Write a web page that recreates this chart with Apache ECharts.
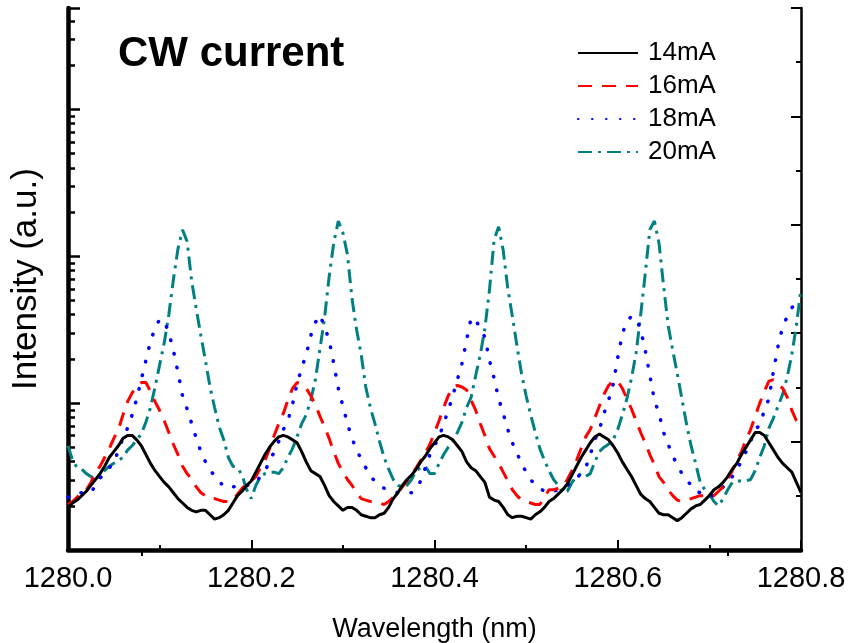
<!DOCTYPE html>
<html><head><meta charset="utf-8">
<script src="https://cdn.jsdelivr.net/npm/echarts@6/dist/echarts.min.js"></script>
<style>html,body{margin:0;padding:0;background:#fff}#c{width:850px;height:643px}</style>
</head><body><div id="c"></div>
<script>
// Wavelength sampling grid (nm), 0.005 nm step from 1280.000 to 1280.800
const wavelength = Array.from({length: 161}, (_, i) => Number((1280 + i * 0.005).toFixed(3)));
const seriesNames = ['14mA', '16mA', '18mA', '20mA'];
const xTickLabels = ['1280.0', '1280.2', '1280.4', '1280.6', '1280.8'];

// log10 intensity (a.u.)
const i14 = [
0.29,0.32,0.34,0.37,0.40,0.44,0.48,0.52,0.57,0.63,
0.67,0.71,0.76,0.78,0.78,0.75,0.71,0.65,0.59,0.54,
0.50,0.46,0.43,0.39,0.35,0.32,0.29,0.27,0.26,0.27,
0.27,0.24,0.21,0.22,0.24,0.27,0.32,0.37,0.40,0.44,
0.47,0.53,0.59,0.65,0.70,0.74,0.77,0.78,0.77,0.75,
0.73,0.67,0.60,0.54,0.52,0.50,0.44,0.37,0.33,0.30,
0.27,0.29,0.29,0.27,0.24,0.23,0.22,0.22,0.24,0.25,
0.29,0.35,0.39,0.44,0.48,0.51,0.55,0.60,0.64,0.69,
0.73,0.77,0.78,0.77,0.75,0.71,0.67,0.60,0.56,0.54,
0.50,0.46,0.36,0.34,0.33,0.29,0.24,0.22,0.23,0.23,
0.22,0.21,0.24,0.26,0.29,0.33,0.35,0.38,0.41,0.45,
0.51,0.57,0.63,0.68,0.73,0.77,0.79,0.77,0.75,0.71,
0.66,0.60,0.55,0.50,0.44,0.38,0.35,0.33,0.29,0.25,
0.24,0.24,0.22,0.20,0.22,0.25,0.28,0.30,0.31,0.34,
0.37,0.41,0.43,0.46,0.50,0.55,0.59,0.65,0.70,0.75,
0.80,0.80,0.78,0.73,0.68,0.63,0.59,0.56,0.53,0.46,
0.39];
const i16 = [
0.31,0.33,0.36,0.39,0.41,0.46,0.53,0.57,0.63,0.69,
0.76,0.82,0.92,1.01,1.07,1.11,1.14,1.14,1.08,1.01,
0.95,0.88,0.80,0.72,0.65,0.57,0.52,0.48,0.43,0.39,
0.37,0.35,0.35,0.34,0.33,0.33,0.34,0.38,0.42,0.45,
0.47,0.50,0.56,0.61,0.69,0.78,0.86,0.93,1.02,1.10,
1.14,1.13,1.10,1.05,0.99,0.91,0.84,0.76,0.67,0.59,
0.53,0.48,0.44,0.39,0.35,0.34,0.33,0.33,0.32,0.31,
0.33,0.36,0.39,0.43,0.47,0.51,0.56,0.61,0.66,0.72,
0.80,0.88,0.97,1.05,1.11,1.12,1.11,1.09,1.02,0.95,
0.86,0.78,0.69,0.64,0.59,0.53,0.47,0.41,0.37,0.34,
0.33,0.32,0.31,0.31,0.36,0.41,0.41,0.42,0.43,0.48,
0.54,0.61,0.69,0.77,0.82,0.90,0.98,1.06,1.12,1.15,
1.15,1.10,1.03,0.96,0.88,0.80,0.73,0.65,0.58,0.50,
0.46,0.41,0.37,0.34,0.33,0.34,0.35,0.36,0.37,0.37,
0.37,0.37,0.40,0.43,0.48,0.54,0.61,0.67,0.75,0.82,
0.91,1.00,1.08,1.15,1.16,1.13,1.10,1.04,0.95,0.88,
0.84];
const i18 = [
0.36,0.37,0.39,0.39,0.39,0.39,0.44,0.49,0.52,0.56,
0.59,0.68,0.76,0.83,0.92,1.03,1.16,1.29,1.42,1.51,
1.57,1.56,1.48,1.36,1.21,1.05,0.96,0.86,0.76,0.67,
0.60,0.55,0.50,0.47,0.43,0.43,0.43,0.43,0.43,0.44,
0.44,0.46,0.50,0.54,0.60,0.67,0.74,0.82,0.88,0.99,
1.13,1.24,1.33,1.46,1.55,1.60,1.52,1.43,1.27,1.10,
0.98,0.86,0.76,0.68,0.62,0.56,0.50,0.47,0.44,0.42,
0.41,0.40,0.39,0.39,0.39,0.39,0.42,0.47,0.56,0.65,
0.71,0.77,0.86,0.95,1.05,1.16,1.27,1.43,1.58,1.57,
1.50,1.45,1.29,1.17,1.03,0.93,0.82,0.73,0.66,0.59,
0.53,0.48,0.44,0.42,0.40,0.39,0.40,0.41,0.42,0.44,
0.46,0.49,0.52,0.56,0.65,0.75,0.82,0.93,1.02,1.13,
1.31,1.47,1.56,1.59,1.58,1.50,1.36,1.19,1.02,0.93,
0.80,0.72,0.64,0.58,0.52,0.48,0.44,0.40,0.39,0.37,
0.37,0.37,0.40,0.43,0.46,0.50,0.54,0.61,0.67,0.74,
0.82,0.85,0.95,1.03,1.22,1.39,1.52,1.59,1.65,1.68,
1.71];
const i20 = [
0.71,0.61,0.56,0.55,0.52,0.50,0.48,0.50,0.54,0.57,
0.59,0.61,0.63,0.68,0.71,0.75,0.79,0.87,0.97,1.11,
1.26,1.41,1.60,1.84,2.05,2.18,2.10,1.83,1.64,1.46,
1.29,1.11,0.97,0.84,0.75,0.63,0.57,0.56,0.51,0.41,
0.35,0.44,0.50,0.52,0.53,0.53,0.52,0.56,0.63,0.69,
0.77,0.86,0.92,1.02,1.16,1.37,1.58,1.86,2.09,2.24,
2.16,2.01,1.71,1.50,1.33,1.11,0.97,0.86,0.74,0.63,
0.55,0.48,0.44,0.43,0.44,0.48,0.54,0.56,0.57,0.52,
0.52,0.59,0.65,0.70,0.74,0.80,0.87,0.97,1.04,1.19,
1.33,1.51,1.77,2.11,2.20,2.04,1.78,1.59,1.39,1.20,
1.05,0.92,0.80,0.69,0.61,0.54,0.48,0.44,0.39,0.40,
0.46,0.50,0.52,0.50,0.52,0.60,0.67,0.70,0.72,0.75,
0.82,0.92,1.03,1.17,1.34,1.60,1.88,2.18,2.24,2.09,
1.80,1.53,1.36,1.20,1.03,0.86,0.71,0.59,0.46,0.41,
0.38,0.33,0.30,0.35,0.41,0.46,0.47,0.47,0.47,0.48,
0.54,0.63,0.71,0.83,0.90,0.98,1.06,1.18,1.33,1.53,
1.78];

const yMax = 3.69; // top of plot in log10 units
const logMinorTicks = [];
for (let n = 0; n < 4; n++) for (let m = 2; m <= 9; m++) {
  const v = Math.log10(m * Math.pow(10, n));
  if (v < yMax) logMinorTicks.push(v);
}

const FONT = 'Liberation Sans, Arial, Helvetica, sans-serif';
const pairs = arr => wavelength.map((w, i) => [w, arr[i]]);

const chart = echarts.init(document.getElementById('c'), null, {renderer: 'canvas'});
chart.setOption({
  animation: false,
  backgroundColor: '#fff',
  textStyle: {fontFamily: FONT},
  title: {
    text: 'CW current', left: 118, top: 33, padding: 0,
    textStyle: {fontSize: 42, fontWeight: 'bold', color: '#000', fontFamily: FONT}
  },
  legend: {
    orient: 'vertical', left: 577, top: 40, padding: 0,
    itemWidth: 60, itemHeight: 26, itemGap: 7,
    data: seriesNames,
    itemStyle: {opacity: 0},
    textStyle: {fontSize: 26, color: '#000', fontFamily: FONT, padding: [0, 0, 0, 5]}
  },
  grid: {left: 68, right: 49, top: 8, bottom: 93, outerBoundsMode: 'none', containLabel: false},
  xAxis: [{
    type: 'value', position: 'bottom', min: 1280, max: 1280.8, interval: 0.2,
    axisLine: {lineStyle: {color: '#000', width: 4.5}},
    axisTick: {inside: true, length: 10, lineStyle: {color: '#000', width: 2}},
    minorTick: {show: true, splitNumber: 2, length: 5, lineStyle: {color: '#000', width: 2}},
    splitLine: {show: false},
    axisLabel: {
      formatter: v => xTickLabels[Math.round((v - 1280) / 0.2)],
      fontSize: 29, color: '#000', margin: 14, fontFamily: FONT,
      showMinLabel: true, showMaxLabel: true
    },
    name: 'Wavelength (nm)', nameLocation: 'middle', nameGap: 66,
    nameTextStyle: {fontSize: 27, color: '#000', fontFamily: FONT}
  }, {
    type: 'value', position: 'top', min: 0, max: 1,
    axisLine: {lineStyle: {color: '#000', width: 2.5}},
    axisTick: {inside: true, length: 6, customValues: [0.1, 0.9], lineStyle: {color: '#000', width: 2}},
    axisLabel: {show: false}, splitLine: {show: false}
  }],
  yAxis: [{
    type: 'value', position: 'left', min: 0, max: yMax, interval: 1,
    axisLine: {lineStyle: {color: '#000', width: 4.5}},
    axisTick: {inside: true, length: 12, lineStyle: {color: '#000', width: 2.5}},
    axisLabel: {show: false}, splitLine: {show: false},
    name: 'Intensity (a.u.)', nameLocation: 'middle', nameGap: 24,
    nameTextStyle: {fontSize: 35, color: '#000', fontFamily: FONT}
  }, {
    type: 'value', position: 'left', min: 0, max: yMax,
    axisLine: {show: false},
    axisTick: {inside: true, length: 7, customValues: logMinorTicks, lineStyle: {color: '#000', width: 2.5}},
    axisLabel: {show: false}, splitLine: {show: false}
  }, {
    type: 'value', position: 'right', min: 0, max: 10, interval: 2,
    axisLine: {lineStyle: {color: '#000', width: 2.5}},
    axisTick: {inside: true, length: 10, lineStyle: {color: '#000', width: 2}},
    minorTick: {show: true, splitNumber: 2, length: 5, lineStyle: {color: '#000', width: 2}},
    axisLabel: {show: false}, splitLine: {show: false}
  }],
  series: [
    {name: seriesNames[0], type: 'line', data: pairs(i14), symbol: 'none', z: 4,
     itemStyle: {color: '#000'}, lineStyle: {color: '#000', width: 3}},
    {name: seriesNames[1], type: 'line', data: pairs(i16), symbol: 'none', z: 3,
     itemStyle: {color: '#ff0000'}, lineStyle: {color: '#ff0000', width: 3, type: [14, 10]}},
    {name: seriesNames[2], type: 'line', data: pairs(i18), symbol: 'none', z: 2,
     itemStyle: {color: '#0000ff'}, lineStyle: {color: '#0000ff', width: 3.5, type: [0.5, 13.5], cap: 'round'}},
    {name: seriesNames[3], type: 'line', data: pairs(i20), symbol: 'none', z: 1,
     itemStyle: {color: '#008080'}, lineStyle: {color: '#008080', width: 3, type: [14, 6, 3, 6]}}
  ]
});
</script></body></html>
